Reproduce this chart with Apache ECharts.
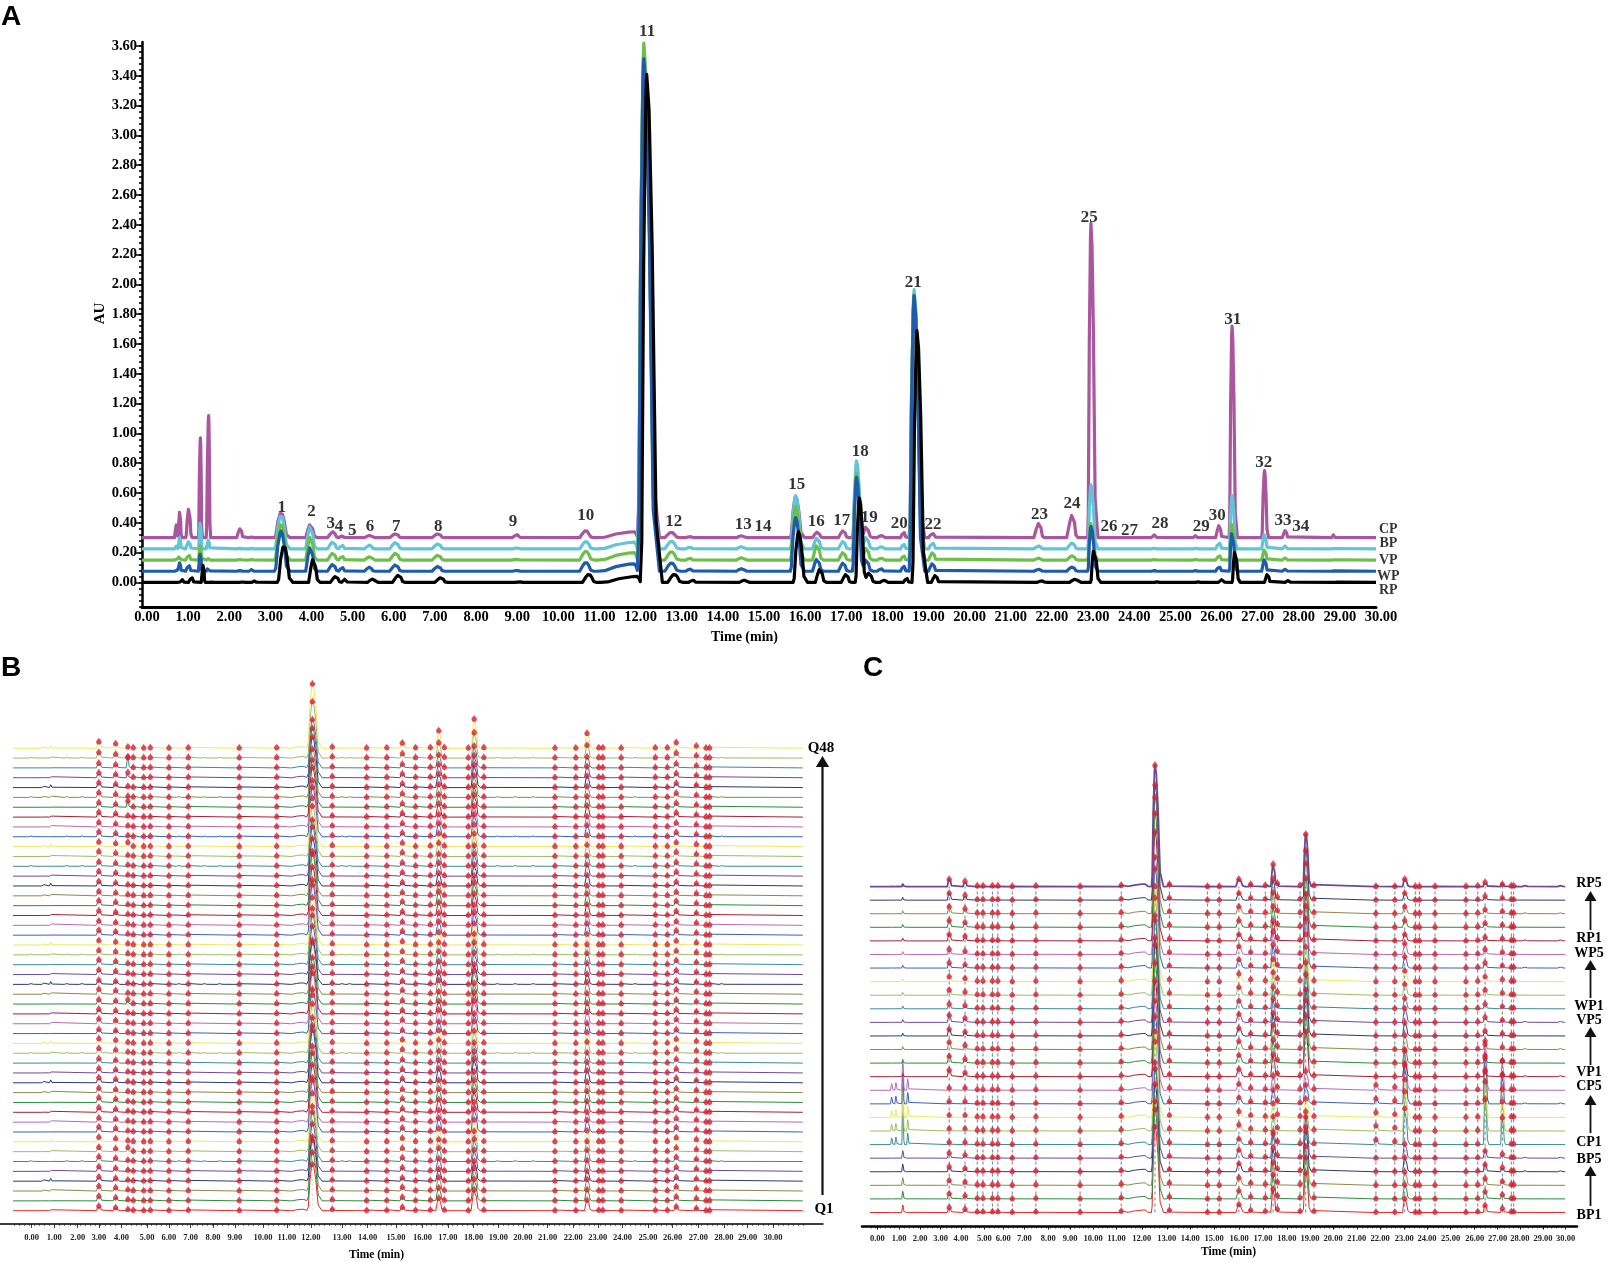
<!DOCTYPE html>
<html><head><meta charset="utf-8">
<script src="https://cdn.jsdelivr.net/npm/echarts@6/dist/echarts.min.js"></script>
<style>html,body{margin:0;padding:0;background:#fff}#c{width:1608px;height:1262px}</style>
</head><body><div id="c"></div>
<script>
// ---------- Panel A data ----------
const aPeakTimes=[.67,.75,.97,1.25,1.45,2.22,2.5,3.21,3.92,4.47,4.70,5.36,6.0,7.03,8.95,10.62,11.8,12.03,12.7,13.15,14.4,15.72,16.24,16.88,17.2,17.43,17.8,18.35,18.6,19.05,21.64,22.45,22.9,24.45,25.45,26.02,26.33,27.12,27.63,28.8];
const aWidthL=[.05,.05,.08,.05,.06,.09,.07,.16,.11,.13,.09,.12,.15,.15,.12,.15,.9,.15,.16,.1,.12,.13,.11,.12,.1,.07,.1,.08,.12,.1,.13,.14,.08,.08,.07,.09,.07,.07,.08,.05];
const aWidthR=[.05,.05,.08,.05,.05,.09,.07,.22,.17,.15,.09,.14,.16,.16,.12,.2,.12,.38,.22,.12,.14,.22,.16,.13,.2,.17,.1,.08,.26,.12,.13,.14,.17,.08,.07,.09,.13,.1,.08,.05];
const aCP=[.09,.18,.20,.67,.82,.063,.005,.17,.09,.04,.012,.015,.027,.027,.02,.048,.04,3.25,.037,.008,.013,.277,.037,.048,.4,.074,.015,.037,1.6,.03,.10,.157,2.11,.02,.015,.085,1.42,.45,.05,.02];
const aBP=[.02,.08,.05,.18,.06,.004,.004,.23,.155,.047,.025,.025,.044,.035,.006,.05,.045,3.35,.052,.012,.015,.357,.076,.052,.59,.08,.015,.033,1.74,.04,.02,.04,.43,.005,.005,.04,.36,.10,.02,.004];
const aVP=[.01,.033,.033,.10,.01,.004,.004,.25,.16,.047,.025,.022,.047,.033,.005,.06,.05,3.47,.057,.012,.015,.36,.10,.052,.58,.083,.013,.028,1.78,.05,.013,.03,.26,.004,.004,.03,.25,.07,.015,.003];
const aWP=[.01,.06,.04,.12,.025,.004,.012,.27,.165,.047,.025,.027,.044,.033,.005,.06,.05,3.44,.057,.015,.017,.36,.083,.057,.63,.078,.017,.035,1.85,.052,.013,.03,.30,.004,.004,.03,.265,.08,.014,.003];
const aRP=[.004,.02,.033,.12,.002,.003,.01,.25,.16,.041,.022,.022,.05,.033,.004,.055,.04,3.41,.055,.015,.015,.34,.09,.055,.566,.065,.015,.028,1.69,.048,.01,.022,.22,.004,.004,.02,.21,.055,.012,.003];
const aNames=['CP','BP','VP','WP','RP'];
const aBaselines=[.30,.225,.15,.075,0];
const aEndLabelY=[.358,.262,.145,.041,-.055];
const aShift=[0,0,0,0,.07];
const aColors=['#a9569f','#62c4d6','#6cc04a','#1f5bab','#000000'];
const aLabelText=['1','2','3','4','5','6','7','8','9','10','11','12','13','14','15','16','17','18','19','20','21','22','23','24','25','26','27','28','29','30','31','32','33','34'];
const aLabelT=[3.23,3.95,4.42,4.62,4.94,5.37,6.01,7.03,8.85,10.62,12.11,12.76,14.45,14.93,15.75,16.22,16.84,17.29,17.51,18.24,18.58,19.06,21.65,22.44,22.86,23.34,23.84,24.58,25.58,25.97,26.35,27.10,27.57,28.0];
const aLabelY=[.502,.475,.392,.372,.351,.372,.372,.372,.406,.447,3.70,.406,.385,.372,.654,.406,.413,.881,.434,.392,2.01,.385,.454,.530,2.45,.372,.351,.392,.372,.447,1.762,.805,.413,.372];
const aLabelShift=.17;
// ---------- Panel B data ----------
const bPeakTimes=[3.54,4.20,4.68,4.89,5.30,5.56,6.29,7.05,9.05,10.52,11.92,12.70,14.05,14.84,15.45,15.97,16.55,16.88,17.10,18.04,18.27,18.65,21.44,22.26,22.70,23.16,23.32,24.04,25.38,25.85,26.20,26.99,27.37,27.51];
const bHeights=[5.5,4,2,1.2,1,1.2,1,1.2,1,1.2,50,2,1,1.2,4.5,1.2,1.5,14,1.5,1,23,1.4,1,1,12,1.2,1.2,1,1.2,1.2,5,3,1,1];
const bWidthL=[.1,.1,.07,.07,.07,.07,.07,.08,.07,.08,.2,.1,.07,.07,.09,.07,.08,.12,.07,.07,.12,.07,.07,.07,.1,.07,.07,.07,.07,.07,.1,.08,.06,.06];
const bWidthR=[.18,.16,.08,.08,.08,.08,.08,.1,.08,.1,.38,.18,.08,.08,.16,.08,.08,.2,.08,.08,.24,.08,.08,.08,.2,.08,.08,.08,.08,.08,.16,.12,.06,.06];
const bScale=[.94,.98,1.02,.9,.96,1.0,.92,.98,1.04,.9,.96,1.0,.94,1.06,.96,.92,1.0,.98,.9,1.02,.96,.94,1.04,.9,.98,1.0,.94,.96,1.02,.92,.98,1.04,.9,.96,1.0,.94,1.02,.98,1.0,.94,1.0,.96,.98,1.02,1.0,.98,1.14,1.30];
const bTall=[[45,2,11],[44,2,6],[41,2,7],[37,2,5],[21,2,5],[6,2,5]];
const bEarlyTimes=[1.36,1.66];
const bEarlyA=[1,.6,1.5,2,1,.5,1,1.5,.8,1];
const bEarlyB=[1.5,1,2,3,1.5,1,1.5,2.5,1,2];
const bNoiseRows=[46,42,38,23,16,5,35,26];
const bNoiseTimes=[.9,2.3,2.9,5.0,6.7,7.7,8.3,13.1,13.4,19.2,19.9,20.6,24.6,28.0];
const bTickPos=[.90,1.79,2.71,3.54,4.43,5.43,6.29,7.14,8.02,8.88,9.98,10.92,11.86,13.08,14.09,15.2,16.24,17.24,18.25,19.22,20.18,21.15,22.16,23.12,24.09,25.09,26.06,27.07,28.07,29.0,30.0];
const bTickText=['0.00','1.00','2.00','3.00','4.00','5.00','6.00','7.00','8.00','9.00','10.00','11.00','12.00','13.00','14.00','15.00','16.00','17.00','18.00','19.00','20.00','21.00','22.00','23.00','24.00','25.00','26.00','27.00','28.00','29.00','30.00'];
const bRowStep=9.84;
// ---------- Panel C data ----------
const cPeakTimes=[3.91,4.58,5.10,5.34,5.74,5.97,6.58,7.58,9.45,11.19,12.62,13.23,14.84,15.34,16.17,16.67,17.29,17.62,17.80,18.76,19.0,19.35,21.97,22.77,23.19,23.64,23.81,24.47,25.78,26.28,26.59,27.32,27.70,27.80];
const cBP=[6,4,1.5,1.5,1.5,1.5,1,1.5,1,2,90,3,1,1,9,3,2,25,4,2,42,2,1,1,15,1,1,1,1,1.5,8,5,1.5,1.5];
const cCPh=[3,3,1.5,1.5,1.5,1.5,1,1.5,1,2,90,3,1,1,7,3,2,15,4,2,20,2,6,4,40,1,1,1,1,1.5,50,30,1.5,1.5];
const cVP=[8,5,1.5,1.5,1.5,1.5,1,1.5,1,2,105,3,1,1,9,3,2,25,4,2,50,2,1,1,15,1,1,1,1,1.5,6,3,1.5,1.5];
const cWP=[6,4,1.5,1.5,1.5,1.5,1,1.5,1,2,100,3,1,1,9,3,2,24,4,2,50,2,1,1,12,1,1,1,1,1.5,6,3,1.5,1.5];
const cRP=[8,6,1.5,1.5,1.5,1.5,1,1.5,1,2,122,3,1,1,8,3,2,23,4,2,53,2,1,1,8,1,1,1,1,1.5,5,3,1.5,1.5];
const cWidthL=[.08,.08,.06,.06,.06,.06,.06,.06,.06,.08,.15,.1,.06,.06,.12,.08,.07,.1,.06,.06,.12,.06,.08,.08,.09,.05,.05,.06,.06,.06,.08,.08,.05,.05];
const cWidthR=[.16,.14,.06,.06,.06,.06,.06,.06,.06,.1,.36,.16,.06,.06,.26,.14,.08,.18,.08,.06,.24,.06,.2,.12,.22,.05,.05,.06,.06,.06,.16,.14,.05,.05];
const cScale=[.96,1.0,.94,.98,1.0,.92,1.0,.96,.98,1.0,.92,.96,1.0,.94,.98,.94,.98,.96,1.0,.98,.9,.94,.96,.95,1.0];
const cEarlyTimes=[1.48,1.66,1.95,2.16];
const cEarlyBP=[1,1,8,1];
const cEarlyCP=[7,8,33,12];
const cEarlyOther=[1,1,3,.5];
const cLateRows=[24,22,20,18,14,12,10,8,4,3];
const cLateTimes=[28.3,29.8];
const cTickPos=[.87,1.79,2.68,3.55,4.41,5.40,6.20,7.09,8.10,9.03,10,10.99,12.06,13.12,14.11,15.12,16.18,17.19,18.2,19.18,20.16,21.16,22.15,23.17,24.13,25.13,26.15,27.12,28.06,29.04,30.0];
const cTickText=bTickText;
const cRowStep=13.58;
const rowColors=['#2d8a3e','#8a8a4e','#2b3a6b','#6f4a93','#3b8c8f','#9dbd62','#ece85e','#3a62b5','#b46cb4','#a41f35'];
const firstRowColor='#e22a2a';

// ---------- helpers ----------
const outline=[[-1,0],[-.8,.08],[-.5,.62],[-.15,.95],[0,1],[.15,.93],[.35,.66],[.6,.12],[1,0]];
function peakValue(p,t){
  const d=t-p[0], w=d<0?p[2]:p[3], f=d/w;
  if(f<=-1||f>=1) return 0;
  for(let i=1;i<outline.length;i++){
    if(f<=outline[i][0]){
      const a=outline[i-1],b=outline[i];
      return p[1]*(a[1]+(b[1]-a[1])*(f-a[0])/(b[0]-a[0]));
    }
  }
  return 0;
}
function trace(base,peaks,start,end){
  const knots=new Set([start,end]);
  peaks.forEach(p=>outline.forEach(o=>{
    const t=p[0]+o[0]*(o[0]<0?p[2]:p[3]);
    if(t>start&&t<end) knots.add(+t.toFixed(4));
  }));
  return [...knots].sort((a,b)=>a-b).map(t=>{
    let y=base; peaks.forEach(p=>{y+=peakValue(p,t)}); return [t,y];
  });
}
const rowColor=i=>i===0?firstRowColor:rowColors[(i-1)%10];
const serif='"Liberation Serif","Times New Roman",serif';
const range=(a,b,s)=>{const r=[];for(let v=a;v<=b+1e-9;v+=s)r.push(+v.toFixed(3));return r};
const textTag=(name,x,y,size,family)=>({type:'text',z:50,style:{text:name,x:x,y:y,font:`bold ${size}px ${family||serif}`,fill:'#000',textAlign:'center',textVerticalAlign:'middle'}});
const arrow=(x,yTop,yBottom,head,shaft)=>[
  {type:'line',z:50,shape:{x1:x,y1:yTop+head,x2:x,y2:yBottom},style:{stroke:'#111',lineWidth:shaft}},
  {type:'polygon',z:50,shape:{points:[[x,yTop],[x-head*.6,yTop+head],[x+head*.6,yTop+head]]},style:{fill:'#111'}}
];
const dropMark='path://M5,0 C6,3 10,5 10,8 C10,11 7.5,13 5,13 C2.5,13 0,11 0,8 C0,5 4,3 5,0 Z';

// ---------- axes ----------
const grid=[
 {left:142,top:42,width:1234,height:565},
 {left:0,top:670,width:823,height:554},
 {left:862,top:740,width:715,height:486.5}
];
const tickMap=(pos,txt)=>{const m={};pos.forEach((p,i)=>m[p]=txt[i]);return m};
const bMap=tickMap(bTickPos,bTickText), cMap=tickMap(cTickPos,cTickText);
const nameStyle=(size,pad)=>({color:'#000',fontFamily:serif,fontWeight:'bold',fontSize:size,padding:pad});
const xAxis=[
 {gridIndex:0,type:'value',position:'bottom',min:0,max:30,interval:1,splitLine:{show:false},
  axisLine:{onZero:false,lineStyle:{color:'#000',width:3}},axisTick:{show:false},
  axisLabel:{color:'#000',fontFamily:serif,fontWeight:'bold',fontSize:14.5,margin:3,padding:[0,0,0,10],showMinLabel:true,showMaxLabel:true,formatter:v=>v.toFixed(2)},
  name:'Time (min)',nameLocation:'middle',nameGap:23,nameMoveOverlap:false,nameTextStyle:nameStyle(14,[0,29,0,0])},
 {gridIndex:1,type:'value',position:'bottom',min:-.34,max:31.96,splitLine:{show:false},
  axisLine:{onZero:false,lineStyle:{color:'#000',width:1.5}},axisTick:{length:4,lineStyle:{color:'#111',width:.8},customValues:bTickPos},
  axisLabel:{customValues:bTickPos,color:'#222',fontFamily:serif,fontWeight:'bold',fontSize:8.5,margin:9,formatter:v=>bMap[v]},
  name:'Time (min)',nameLocation:'middle',nameGap:25,nameMoveOverlap:false,nameTextStyle:nameStyle(11.5,[0,70,0,0])},
 {gridIndex:2,type:'value',position:'bottom',min:.22,max:30.48,splitLine:{show:false},
  axisLine:{onZero:false,lineStyle:{color:'#000',width:2.5}},axisTick:{length:3,lineStyle:{color:'#111',width:1},customValues:cTickPos},
  axisLabel:{customValues:cTickPos,color:'#222',fontFamily:serif,fontWeight:'bold',fontSize:8.5,margin:8,formatter:v=>cMap[v]},
  name:'Time (min)',nameLocation:'middle',nameGap:20,nameMoveOverlap:false,nameTextStyle:nameStyle(11.5,[0,0,0,18])},
 {gridIndex:1,type:'value',position:'bottom',min:-.34,max:31.96,axisLine:{show:false,onZero:false},splitLine:{show:false},axisLabel:{show:false},axisTick:{length:2,lineStyle:{color:'#222',width:.6},customValues:range(.2,31.2,.2)}},
 {gridIndex:2,type:'value',position:'bottom',min:.22,max:30.48,axisLine:{show:false,onZero:false},splitLine:{show:false},axisLabel:{show:false},axisTick:{length:2,lineStyle:{color:'#222',width:.7},customValues:range(.6,30,.2)}}
];
const aTickVals=range(0,3.6,.2);
const yAxis=[
 {gridIndex:0,type:'value',position:'left',min:-.165,max:3.627,splitLine:{show:false},
  axisLine:{onZero:false,lineStyle:{color:'#000',width:2.5}},axisTick:{length:6,lineStyle:{color:'#000',width:1.5},customValues:aTickVals},
  axisLabel:{customValues:aTickVals,color:'#000',fontFamily:serif,fontWeight:'bold',fontSize:14.5,margin:5,formatter:v=>v.toFixed(2)},
  name:'AU',nameLocation:'middle',nameGap:34,nameRotate:90,nameMoveOverlap:false,nameTextStyle:nameStyle(15,[0,0,0,22])},
 {gridIndex:1,type:'value',min:-13.3,max:540.7,show:false},
 {gridIndex:2,type:'value',min:-14,max:472.5,show:false},
 {gridIndex:0,type:'value',position:'left',min:-.165,max:3.627,splitLine:{show:false},axisLine:{show:false,onZero:false},axisLabel:{show:false},axisTick:{length:3,lineStyle:{color:'#000',width:1.6},customValues:range(-.16,3.6,.04)}}
];

// ---------- series ----------
const series=[];
const hiddenPoint={color:'rgba(0,0,0,0)'};
[aCP,aBP,aVP,aWP,aRP].forEach((h,s)=>{
  const peaks=aPeakTimes.map((t,i)=>[t+aLabelShift+aShift[s],h[i],aWidthL[i],aWidthR[i]]);
  series.push({name:aNames[s],type:'line',xAxisIndex:0,yAxisIndex:0,showSymbol:false,silent:true,clip:false,z:2+s,
    data:trace(aBaselines[s],peaks,0,30),lineStyle:{color:aColors[s],width:3.2,join:'round'},itemStyle:{color:aColors[s]}});
});
series.push({type:'scatter',xAxisIndex:0,yAxisIndex:0,clip:false,symbolSize:1,itemStyle:hiddenPoint,z:10,silent:true,
  data:aLabelText.map((n,i)=>({name:n,value:[aLabelT[i]+aLabelShift,aLabelY[i]]})),
  label:{show:true,position:'inside',formatter:'{b}',color:'#000',fontFamily:serif,fontWeight:'bold',fontSize:17}});
series.push({type:'scatter',xAxisIndex:0,yAxisIndex:0,clip:false,symbolSize:1,itemStyle:hiddenPoint,z:10,silent:true,
  data:aNames.map((n,i)=>({name:n,value:[30.3,aEndLabelY[i]]})),
  label:{show:true,position:'inside',formatter:'{b}',color:'#000',fontFamily:serif,fontWeight:'bold',fontSize:14}});
const bMarks=[], bDash=[];
bPeakTimes.forEach(t=>{bDash.push([t,0],[t,47*bRowStep],['-','-'])});
series.push({type:'line',xAxisIndex:1,yAxisIndex:1,showSymbol:false,silent:true,z:1,connectNulls:false,data:bDash,lineStyle:{color:'#2c6f86',width:.7,type:[2,3],opacity:.35}});
for(let r=0;r<48;r++){
  const base=r*bRowStep;
  const peaks=bPeakTimes.map((t,i)=>{
    const big=bHeights[i]>=4;
    let h=big?bHeights[i]*bScale[r]:bHeights[i];
    bTall.forEach(o=>{if(o[0]===r&&o[1]===i)h=o[2]});
    bMarks.push([t,base+h]);
    return [t,h,bWidthL[i],bWidthR[i]];
  });
  peaks.push([bEarlyTimes[0],bEarlyA[r%10],.06,.06],[bEarlyTimes[1],bEarlyB[r%10],.06,.06],[11.55,1.5,.5,.25]);
  if(bNoiseRows.includes(r)) bNoiseTimes.forEach(t=>peaks.push([t,.8,.12,.12]));
  series.push({name:'Q'+(r+1),type:'line',xAxisIndex:1,yAxisIndex:1,showSymbol:false,silent:true,z:3,
    data:trace(base,peaks,.17,31.17),lineStyle:{color:rowColor(r),width:1}});
}
series.push({type:'scatter',xAxisIndex:1,yAxisIndex:1,symbol:dropMark,symbolSize:[5.5,7],silent:true,z:8,clip:false,data:bMarks,itemStyle:{color:'#d4202f'}});
const cGroups=[cBP,cCPh,cVP,cWP,cRP], cMarks=[], cDash=[];
cPeakTimes.forEach(t=>{cDash.push([t,0],[t,24*cRowStep],['-','-'])});
series.push({type:'line',xAxisIndex:2,yAxisIndex:2,showSymbol:false,silent:true,z:1,connectNulls:false,data:cDash,lineStyle:{color:'#2c6f86',width:.8,type:[3,3]}});
for(let r=0;r<25;r++){
  const g=Math.floor(r/5), base=r*cRowStep;
  const peaks=cPeakTimes.map((t,i)=>{
    const big=cGroups[g][i]>=5;
    const h=big?cGroups[g][i]*cScale[r]:cGroups[g][i];
    cMarks.push([t,base+h]);
    return [t,h,cWidthL[i],cWidthR[i]];
  });
  const early=g===0?cEarlyBP:g===1?cEarlyCP:cEarlyOther;
  cEarlyTimes.forEach((t,i)=>peaks.push([t,early[i],.05,.07]));
  peaks.push([12.2,2.5,.9,.2]);
  if(cLateRows.includes(r)) cLateTimes.forEach(t=>peaks.push([t,1,.15,.15]));
  series.push({name:'S'+(r+1),type:'line',xAxisIndex:2,yAxisIndex:2,showSymbol:false,silent:true,z:3,
    data:trace(base,peaks,.56,29.98),lineStyle:{color:rowColor(r),width:r===24?1.8:1}});
}
series.push({type:'scatter',xAxisIndex:2,yAxisIndex:2,symbol:dropMark,symbolSize:[5.5,7],silent:true,z:8,clip:false,data:cMarks,itemStyle:{color:'#d4202f'}});

// ---------- annotations ----------
const sans='"Liberation Sans",Arial,sans-serif';
const graphic=[
 textTag('A',11,17,28,sans),
 textTag('B',11,668,28,sans),
 textTag('C',873,668,28,sans),
 textTag('Q48',821,748,15),textTag('Q1',824,1209,15),
 ...arrow(822.5,756,1195,11,2.2),
 textTag('RP5',1589,883,14),textTag('RP1',1589,938,14),textTag('WP5',1589,953,14),textTag('WP1',1589,1006,14),
 textTag('VP5',1589,1020,14),textTag('VP1',1589,1072,14),textTag('CP5',1589,1086,14),textTag('CP1',1589,1142,14),
 textTag('BP5',1589,1159,14),textTag('BP1',1589,1215,14),
 ...arrow(1590.5,891,930,10,1.8),...arrow(1590.5,960,998,10,1.8),...arrow(1590.5,1027,1065,10,1.8),...arrow(1590.5,1095,1133,10,1.8),...arrow(1590.5,1166,1206,10,1.8)
];
const chart=echarts.init(document.getElementById('c'),null,{renderer:'canvas'});
chart.setOption({animation:false,backgroundColor:'#fff',grid,xAxis,yAxis,series,graphic});
</script></body></html>
